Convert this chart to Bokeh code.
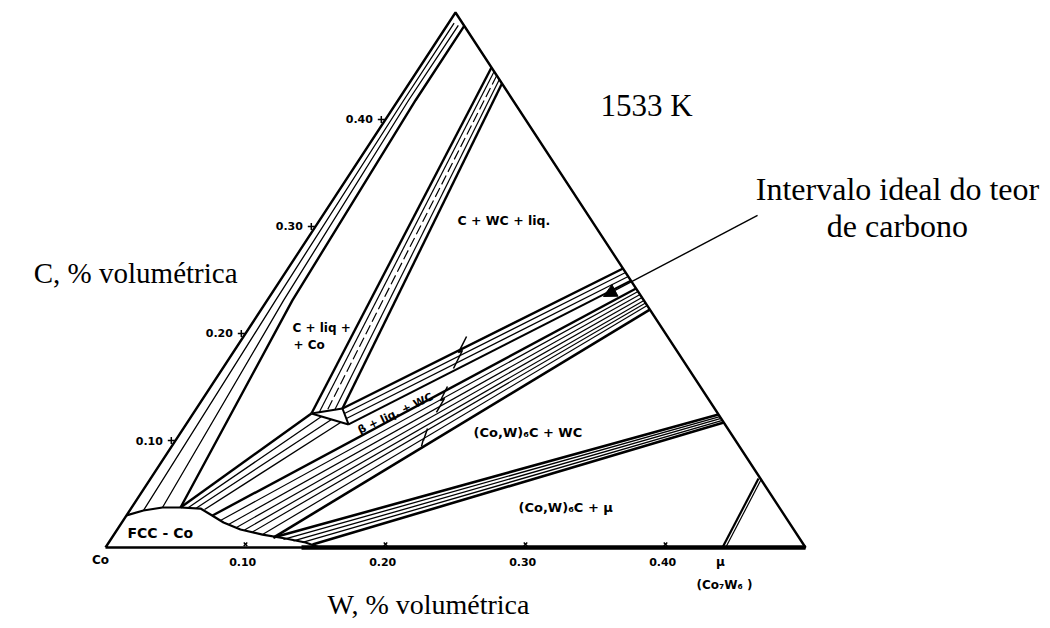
import numpy as np
from bokeh.plotting import figure
from bokeh.models import Arrow, NormalHead
from bokeh.core.properties import value
from bokeh.embed import file_html
from bokeh.resources import INLINE

# ---------------- data: compositions (W fraction, C fraction) ----------------
triangle_w = [0.0, 0.0, 0.5, 0.0]
triangle_c = [0.0, 0.5, 0.0, 0.0]

# FCC-Co phase boundary
fcc_w = [0.0, 0.0098, 0.022, 0.0349, 0.0497, 0.0596, 0.0726, 0.088, 0.1061, 0.1244, 0.1405, 0.153]
fcc_c = [0.030, 0.0346, 0.0374, 0.0374, 0.0364, 0.0308, 0.0234, 0.0168, 0.0121, 0.0084, 0.0047, 0.0]

# FCC + C band (left band) : boundary and tie lines
bandA_bound_w = [0.0349, 0.018, 0.0125, 0.0125]
bandA_bound_c = [0.0374, 0.231, 0.418, 0.4875]
bandA_ties_w = [[0.0098, 0.006, 0.004, 0.004], [0.022, 0.0117, 0.0075, 0.008]]
bandA_ties_c = [[0.0346, 0.231, 0.418, 0.490], [0.0374, 0.231, 0.418, 0.488]]

# liquid + C band (upper middle band)
bandB_w = [[0.0514, 0.0845], [0.0664, 0.1043]]
bandB_c = [[0.4486, 0.1252], [0.4336, 0.1299]]
bandB_ties_w = [[0.0552, 0.0895], [0.0626, 0.0994]]
bandB_ties_c = [[0.4448, 0.1260], [0.4374, 0.1286]]
bandB_dash_w = [0.0589, 0.0944]
bandB_dash_c = [0.4411, 0.1272]

# FCC + C + liq triangle lower edge
lineD_w = [0.0349, 0.0845]
lineD_c = [0.0374, 0.1252]

# liquid region (small triangle)
liq_w = [0.0845, 0.1043, 0.1161, 0.0845]
liq_c = [0.1252, 0.1299, 0.1150, 0.1252]

# FCC + liq tie lines
fccliq_w = [[0.0406, 0.0931], [0.0465, 0.1016], [0.0530, 0.1095]]
fccliq_c = [[0.0374, 0.1224], [0.0369, 0.1196], [0.0355, 0.1168]]

# liq + WC tie lines (start on liquid, end on Co = 0.5 edge)
liqwc_w = [[0.1043, 0.2393], [0.1081, 0.2430], [0.1118, 0.2467], [0.1161, 0.2505]]
liqwc_c = [[0.1299, 0.2607], [0.1252, 0.2570], [0.1206, 0.2533], [0.1150, 0.2495]]

# FCC + WC tie lines
fccwc_w = [[0.0615, 0.2579], [0.0695, 0.2607], [0.0771, 0.2636], [0.0842, 0.2664],
           [0.0911, 0.2692], [0.0977, 0.2715], [0.1061, 0.2738], [0.1153, 0.2776]]
fccwc_c = [[0.0299, 0.2421], [0.0252, 0.2393], [0.0215, 0.2364], [0.0187, 0.2336],
           [0.0164, 0.2308], [0.0145, 0.2285], [0.0121, 0.2262], [0.0093, 0.2224]]

# FCC + (Co,W)6C tie lines
fcceta_w = [[0.1153, 0.3757], [0.1234, 0.3776], [0.1312, 0.3794], [0.1384, 0.3813], [0.1465, 0.3832]]
fcceta_c = [[0.0093, 0.1243], [0.0075, 0.1224], [0.0061, 0.1206], [0.0047, 0.1187], [0.0028, 0.1168]]

# mu tie lines
mu_w = [[0.4407, 0.4342], [0.4430, 0.4365]]
mu_c = [[0.0, 0.0645], [0.0, 0.0640]]

# FCC + mu band along the Co-W side
fccmu_w = [0.14, 0.5]
fccmu_c = [0.0, 0.0]

# small zigzag marks
zig_w = [[0.1593, 0.1610, 0.1629, 0.1649], [0.1690, 0.1706, 0.1725, 0.1733], [0.1744, 0.1771, 0.1765, 0.1785]]
zig_c = [[0.1972, 0.1822, 0.1841, 0.1673], [0.1505, 0.1374, 0.1393, 0.1262], [0.1112, 0.1000, 0.1010, 0.0944]]

# annotation arrow (start, tip)
arrow_w = [0.3106, 0.2384]
arrow_c = [0.3103, 0.2346]

# axis ticks
c_ticks = [0.10, 0.20, 0.30, 0.40]
c_tick_labels = ["0.10", "0.20", "0.30", "0.40"]
w_ticks = [0.10, 0.20, 0.30, 0.40]
w_tick_labels = ["0.10", "0.20", "0.30", "0.40"]


def tern(w, c):
    w = np.asarray(w, float)
    c = np.asarray(c, float)
    return (w + c / 2.0).tolist(), c.tolist()


def tern_multi(ws, cs):
    xs, ys = [], []
    for w, c in zip(ws, cs):
        x, y = tern(w, c)
        xs.append(x)
        ys.append(y)
    return xs, ys


p = figure(width=1044, height=624, x_range=(-0.075, 0.67071), y_range=(-0.07196, 0.51121),
           output_backend="svg", toolbar_location=None, min_border=0,
           x_axis_type=None, y_axis_type=None)
p.grid.visible = False
p.outline_line_color = None
p.background_fill_color = "white"
p.border_fill_color = "white"

K = "black"

# outer triangle
x, y = tern(triangle_w, triangle_c)
p.line(x, y, line_color=K, line_width=2.4)
x, y = tern(fccmu_w, fccmu_c)
p.line(x, y, line_color=K, line_width=4.5)

# FCC boundary
x, y = tern(fcc_w, fcc_c)
p.line(x, y, line_color=K, line_width=2.2)

# band A
x, y = tern(bandA_bound_w, bandA_bound_c)
p.line(x, y, line_color=K, line_width=2.4)
xs, ys = tern_multi(bandA_ties_w, bandA_ties_c)
p.multi_line(xs, ys, line_color=K, line_width=1.3)

# band B
xs, ys = tern_multi(bandB_w, bandB_c)
p.multi_line(xs, ys, line_color=K, line_width=2.4)
xs, ys = tern_multi(bandB_ties_w, bandB_ties_c)
p.multi_line(xs, ys, line_color=K, line_width=1.2)
x, y = tern(bandB_dash_w, bandB_dash_c)
p.line(x, y, line_color=K, line_width=1.2, line_dash="10 4")

# line D and liquid triangle
x, y = tern(lineD_w, lineD_c)
p.line(x, y, line_color=K, line_width=2.4)
x, y = tern(liq_w, liq_c)
p.line(x, y, line_color=K, line_width=2.0)

# tie-line fans
xs, ys = tern_multi(fccliq_w, fccliq_c)
p.multi_line(xs, ys, line_color=K, line_width=1.3)
xs, ys = tern_multi(liqwc_w, liqwc_c)
p.multi_line(xs, ys, line_color=K, line_width=[2.4, 1.2, 1.2, 2.0])
xs, ys = tern_multi(fccwc_w, fccwc_c)
p.multi_line(xs, ys, line_color=K, line_width=[2.4, 1.2, 1.2, 1.2, 1.2, 1.2, 1.2, 2.6])
xs, ys = tern_multi(fcceta_w, fcceta_c)
p.multi_line(xs, ys, line_color=K, line_width=[2.6, 1.3, 1.3, 1.3, 2.6])
xs, ys = tern_multi(mu_w, mu_c)
p.multi_line(xs, ys, line_color=K, line_width=[2.2, 1.2])
xs, ys = tern_multi(zig_w, zig_c)
p.multi_line(xs, ys, line_color=K, line_width=1.5)

# arrow
ax, ay = tern(arrow_w, arrow_c)
p.add_layout(Arrow(x_start=ax[0], y_start=ay[0], x_end=ax[1], y_end=ay[1], line_color=K, line_width=1.4,
                   end=NormalHead(size=13, fill_color=K, line_color=K)))

# ticks
tx, ty = tern([0.0] * 4, c_ticks)
p.scatter([v - 0.003 for v in tx], ty, marker="cross", size=7, line_color=K, line_width=1.5)
p.text([v - 0.009 for v in tx], ty, text=c_tick_labels, text_font=value("DejaVu Sans"),
       text_font_style="bold", text_font_size="11px", text_align="right", text_baseline="middle", text_color=K)
p.scatter(w_ticks, [0.003] * 4, marker="x", size=5, line_color=K, line_width=1.5)
p.text([v - 0.002 for v in w_ticks], [-0.014] * 4, text=w_tick_labels, text_font=value("DejaVu Sans"),
       text_font_style="bold", text_font_size="11px", text_align="center", text_baseline="middle", text_color=K)
p.text([-0.0036], [-0.0121], text=["Co"], text_font=value("DejaVu Sans"), text_font_style="bold",
       text_font_size="12px", text_align="center", text_baseline="middle", text_color=K)
p.text([0.4393], [-0.014], text=["μ"], text_font=value("DejaVu Sans"), text_font_style="bold",
       text_font_size="12px", text_align="center", text_baseline="middle", text_color=K)
p.text([0.4421], [-0.0355], text=["(Co₇W₆ )"], text_font=value("DejaVu Sans"), text_font_style="bold",
       text_font_size="12px", text_align="center", text_baseline="middle", text_color=K)

# region labels
sans = dict(text_font=value("DejaVu Sans"), text_font_style="bold", text_color=K, text_baseline="middle")
p.text([0.0157], [0.014], text=["FCC  - Co"], text_font_size="14px", text_align="left", **sans)
p.text([0.2514], [0.3056], text=["C + WC + liq."], text_font_size="12.5px", text_align="left", **sans)
p.text([0.1336, 0.1343], [0.2047, 0.1888], text=["C + liq +", "+ Co"], text_font_size="12px",
       text_align="left", **sans)
p.text([0.2071], [0.1252], text=["β + liq. + WC"], angle=0.44, text_font_size="11px",
       text_align="center", **sans)
p.text([0.2629], [0.1075], text=["(Co,W)₆C + WC"], text_font_size="13px", text_align="left", **sans)
p.text([0.295], [0.0374], text=["(Co,W)₆C + μ"], text_font_size="13px", text_align="left", **sans)

# big serif texts
serif = dict(text_font=value("Liberation Serif"), text_color=K)
p.text([0.3536], [0.4131], text=["1533 K"], text_align="left", text_baseline="middle",
       text_font_size="31px", **serif)
p.text([0.5657, 0.5657], [0.3355, 0.3009], text=["Intervalo ideal do teor", "de carbono"],
       text_align="center", text_baseline="middle", text_font_size="32px", **serif)
p.text([0.0943], [0.257], text=["C, % volumétrica"], text_align="right", text_baseline="middle",
       text_font_size="29px", **serif)
p.text([0.1586], [-0.0533], text=["W, % volumétrica"], text_align="left", text_baseline="middle",
       text_font_size="28px", **serif)

open("out.html", "w").write(file_html(p, INLINE))
